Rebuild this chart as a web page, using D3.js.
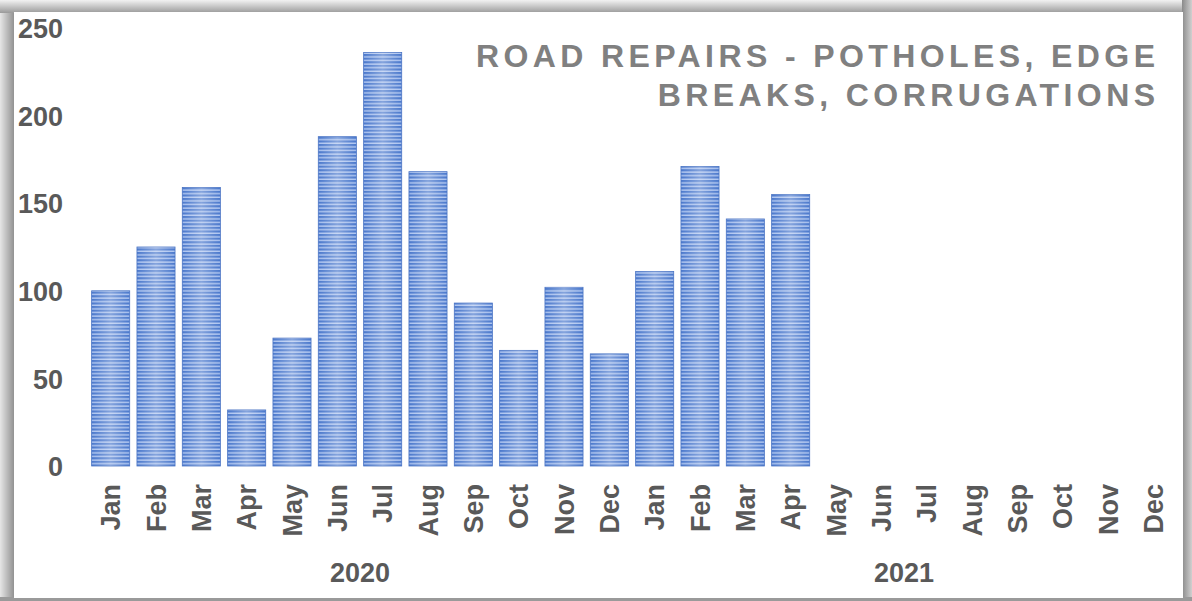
<!DOCTYPE html>
<html>
<head>
<meta charset="utf-8">
<script src="https://cdn.jsdelivr.net/npm/d3@7"></script>
<style>
  html, body { margin: 0; padding: 0; background: #ffffff; }
  svg { display: block; }
</style>
</head>
<body>
<svg id="chart" width="1192" height="601"></svg>
<script>
// ---- data ----
const months = ["Jan","Feb","Mar","Apr","May","Jun","Jul","Aug","Sep","Oct","Nov","Dec"];
const years = ["2020", "2021"];
const values2020 = [100, 125, 159, 32, 73, 188, 236, 168, 93, 66, 102, 64];
const values2021 = [111, 171, 141, 155];
const yTicks = [0, 50, 100, 150, 200, 250];
const titleLines = ["ROAD REPAIRS - POTHOLES, EDGE", "BREAKS, CORRUGATIONS"];

// build category table
const cats = [];
years.forEach((yr, yi) => {
  months.forEach((m, mi) => {
    const vals = yi === 0 ? values2020 : values2021;
    cats.push({ key: yr + "-" + m, month: m, year: yr, value: mi < vals.length ? vals[mi] : null });
  });
});

const svg = d3.select("#chart");
const W = 1192, H = 601;

// ---- frame (gray border with shadow) ----
const defs = svg.append("defs");
const gl = defs.append("linearGradient").attr("id", "gLeft").attr("x1", 0).attr("x2", 1).attr("y1", 0).attr("y2", 0);
gl.append("stop").attr("offset", 0).attr("stop-color", "#e6e6e6");
gl.append("stop").attr("offset", 1).attr("stop-color", "#8c8c8c");
const gt = defs.append("linearGradient").attr("id", "gTop").attr("x1", 0).attr("x2", 0).attr("y1", 0).attr("y2", 1);
gt.append("stop").attr("offset", 0).attr("stop-color", "#f2f2f2");
gt.append("stop").attr("offset", 1).attr("stop-color", "#9a9a9a");
const gr = defs.append("linearGradient").attr("id", "gRight").attr("x1", 0).attr("x2", 1).attr("y1", 0).attr("y2", 0);
gr.append("stop").attr("offset", 0).attr("stop-color", "#8a8a8a");
gr.append("stop").attr("offset", 1).attr("stop-color", "#d0d0d0");

svg.append("rect").attr("x", 0).attr("y", 0).attr("width", W).attr("height", H).attr("fill", "#c8c8c8");
svg.append("rect").attr("x", 0).attr("y", 0).attr("width", 15).attr("height", H).attr("fill", "url(#gLeft)");
svg.append("rect").attr("x", 0).attr("y", 0).attr("width", W).attr("height", 13).attr("fill", "url(#gTop)");
svg.append("rect").attr("x", 1182).attr("y", 0).attr("width", 10).attr("height", H).attr("fill", "url(#gRight)");
svg.append("rect").attr("x", 0).attr("y", 597).attr("width", W).attr("height", 4).attr("fill", "#9a9a9a");
svg.append("rect").attr("x", 14).attr("y", 12).attr("width", 1169).attr("height", 586).attr("fill", "#ffffff");

// ---- bar fill: horizontal stripes + lighter center ----
const pat = defs.append("pattern").attr("id", "stripes")
  .attr("patternUnits", "userSpaceOnUse").attr("width", 8).attr("height", 3.6);
pat.append("rect").attr("x", 0).attr("y", 0).attr("width", 8).attr("height", 3.6).attr("fill", "#b0c6f0");
pat.append("rect").attr("x", 0).attr("y", 0).attr("width", 8).attr("height", 2.2).attr("fill", "#4a78cc");

const gc = defs.append("linearGradient").attr("id", "gCenter").attr("x1", 0).attr("x2", 1).attr("y1", 0).attr("y2", 0);
gc.append("stop").attr("offset", 0).attr("stop-color", "#ffffff").attr("stop-opacity", 0);
gc.append("stop").attr("offset", 0.5).attr("stop-color", "#ffffff").attr("stop-opacity", 0.33);
gc.append("stop").attr("offset", 1).attr("stop-color", "#ffffff").attr("stop-opacity", 0);

// ---- scales ----
const x = d3.scaleBand().domain(cats.map(d => d.key)).range([88, 1176]).paddingInner(0.16).paddingOuter(0.08);
const y = d3.scaleLinear().domain([0, 250]).range([466, 28]);

const labelColor = "#595959";
const font = "'Liberation Sans', Arial, sans-serif";

// ---- bars ----
const withVals = cats.filter(d => d.value !== null);
const bars = svg.append("g");
bars.selectAll("rect.bar").data(withVals).join("rect").attr("class", "bar")
  .attr("x", d => x(d.key)).attr("width", x.bandwidth())
  .attr("y", d => y(d.value)).attr("height", d => y(0) - y(d.value))
  .attr("fill", "url(#stripes)")
  .attr("stroke", "#4a74c4").attr("stroke-width", 0.8);
bars.selectAll("rect.sheen").data(withVals).join("rect").attr("class", "sheen")
  .attr("x", d => x(d.key)).attr("width", x.bandwidth())
  .attr("y", d => y(d.value)).attr("height", d => y(0) - y(d.value))
  .attr("fill", "url(#gCenter)");

// ---- y axis ----
const yAxis = svg.append("g").attr("transform", "translate(63,0)")
  .call(d3.axisLeft(y).tickValues(yTicks).tickSize(0).tickPadding(0));
yAxis.select(".domain").remove();
yAxis.selectAll("text")
  .attr("font-family", font).attr("font-size", 27).attr("font-weight", "bold")
  .attr("fill", labelColor).attr("dy", "0.36em");

// ---- x axis ----
const xAxis = svg.append("g").attr("transform", `translate(0,${y(0)})`)
  .call(d3.axisBottom(x).tickSize(0).tickFormat(k => cats.find(c => c.key === k).month));
xAxis.select(".domain").remove();
xAxis.selectAll("text")
  .attr("font-family", font).attr("font-size", 27).attr("font-weight", "bold")
  .attr("fill", labelColor)
  .attr("x", 0).attr("y", 0).attr("dy", "0.36em")
  .attr("text-anchor", "end")
  .attr("transform", "translate(0,18) rotate(-90)");

// ---- year labels ----
years.forEach(yr => {
  const ks = cats.filter(c => c.year === yr).map(c => x(c.key) + x.bandwidth() / 2);
  svg.append("text")
    .attr("x", d3.mean([ks[0], ks[ks.length - 1]])).attr("y", 582)
    .attr("text-anchor", "middle")
    .attr("font-family", font).attr("font-size", 27).attr("font-weight", "bold")
    .attr("fill", labelColor).text(yr);
});

// ---- title ----
const ls = 4.4;
titleLines.forEach((t, i) => {
  svg.append("text")
    .attr("x", 1155 + ls).attr("y", 67 + i * 39)
    .attr("text-anchor", "end")
    .attr("font-family", font).attr("font-size", 32).attr("font-weight", "bold")
    .attr("letter-spacing", ls)
    .attr("fill", "#808080").text(t);
});
</script>
</body>
</html>
